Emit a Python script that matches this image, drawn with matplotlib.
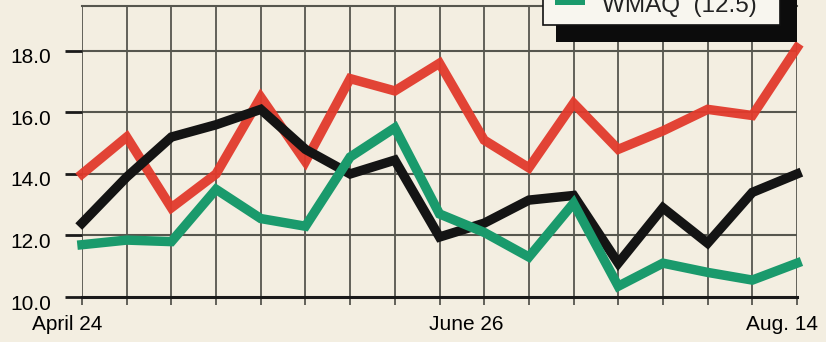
import matplotlib.pyplot as plt
import matplotlib.transforms as mtransforms
from matplotlib.patches import Rectangle

# weekly ratings, April 24 .. Aug. 14
weeks = list(range(17))
red_vals = [14.0, 15.2, 12.9, 14.0, 16.5, 14.4, 17.1, 16.7, 17.6, 15.1, 14.2, 16.3, 14.8, 15.4, 16.1, 15.9, 18.1]
black_vals = [12.4, 13.9, 15.2, 15.6, 16.1, 14.8, 14.0, 14.45, 11.95, 12.4, 13.15, 13.3, 11.1, 12.9, 11.75, 13.4, 14.0]
green_vals = [11.7, 11.85, 11.8, 13.5, 12.55, 12.3, 14.55, 15.5, 12.7, 12.1, 11.3, 13.05, 10.35, 11.1, 10.8, 10.55, 11.1]
y_ticks = [10.0, 12.0, 14.0, 16.0, 18.0]
x_labels = {0: 'April 24', 8: 'June 26', 16: 'Aug. 14'}
legend_label = 'WMAQ  (12.5)'

bg = '#f3eee1'
grid_col = '#56564e'
red = '#e23a2c'
black = '#141414'
green = '#1a9a6c'

plt.rcParams['font.family'] = ['Liberation Sans', 'DejaVu Sans']

fig = plt.figure(figsize=(8.26, 3.42), dpi=100, facecolor=bg)
ax = fig.add_axes([82 / 826, 1 - 297 / 342, 715 / 826, 291 / 342])
ax.set_facecolor(bg)

ax.set_xlim(0, 16)
ax.set_ylim(10, 19.46)

# grid
ax.set_xticks(weeks)
ax.set_yticks(y_ticks)
for w in weeks:
    ax.axvline(w, color=grid_col, lw=1.3, zorder=1)
for v in y_ticks[1:]:
    ax.axhline(v, color=grid_col, lw=1.5, zorder=1)
ax.axhline(19.46, color=grid_col, lw=1.5, zorder=1, clip_on=False)

for s in ['top', 'right', 'left']:
    ax.spines[s].set_visible(False)
ax.spines['bottom'].set_linewidth(2.2)
ax.spines['bottom'].set_color('#1a1a1a')

ax.plot(weeks, red_vals, color=red, lw=6.8, alpha=0.95, zorder=3,
        solid_joinstyle='miter', clip_on=False)
ax.plot(weeks, black_vals, color=black, lw=6.8, zorder=4,
        solid_joinstyle='miter', clip_on=False)
ax.plot(weeks, green_vals, color=green, lw=6.8, zorder=5,
        solid_joinstyle='miter', clip_on=False)

ax.tick_params(axis='x', direction='out', length=6, width=1.3, color=grid_col,
               labelsize=15, pad=7)
ax.tick_params(axis='y', direction='out', length=12, width=2, color='#1a1a1a',
               labelsize=15, pad=10)
ax.set_xticklabels([x_labels.get(w, '') for w in weeks])
ax.set_yticklabels([f'{v:.1f}' for v in y_ticks])

# nudge labels like the print layout
dy = mtransforms.ScaledTranslation(0, -5 / 100, fig.dpi_scale_trans)
for lab in ax.get_yticklabels():
    lab.set_transform(lab.get_transform() + dy)
shifts = {0: -15, 8: 27, 16: -15}
for w, lab in zip(weeks, ax.get_xticklabels()):
    if w in shifts:
        lab.set_transform(lab.get_transform() +
                          mtransforms.ScaledTranslation(shifts[w] / 100, 0, fig.dpi_scale_trans))

# legend box (only the bottom entry is visible in the crop)
W, H = 826, 342
fig.patches.append(Rectangle((556 / W, 1 - 42 / H), 241 / W, 0.2,
                             transform=fig.transFigure, facecolor='#0c0c0c',
                             edgecolor='none', zorder=10))
fig.patches.append(Rectangle((543 / W, 1 - 25 / H), 237 / W, 0.2,
                             transform=fig.transFigure, facecolor='#f8f6ef',
                             edgecolor='#111111', lw=1.2, zorder=11))
fig.patches.append(Rectangle((555 / W, 1 - 5 / H), 30 / W, 0.05,
                             transform=fig.transFigure, facecolor=green,
                             edgecolor='none', zorder=12))
fig.text(602 / W, 1 - 12 / H, legend_label, fontsize=17.5, color='#222222',
         va='baseline', ha='left', zorder=13)

fig.savefig('out.png', dpi=100, facecolor=bg)
